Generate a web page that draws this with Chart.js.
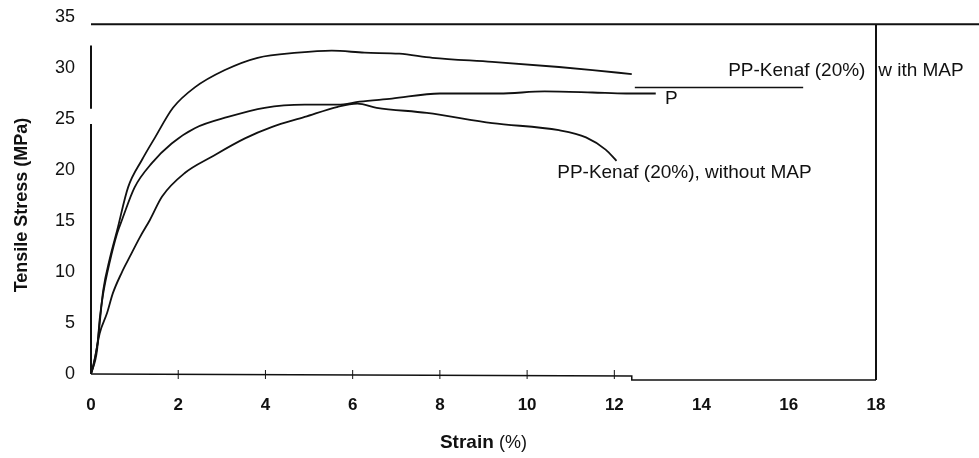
<!DOCTYPE html>
<html>
<head>
<meta charset="utf-8">
<script src="https://cdn.jsdelivr.net/npm/chart.js@4/dist/chart.umd.min.js"></script>
<style>
  html, body { margin: 0; padding: 0; background: #fff; }
  #wrap { width: 979px; height: 458px; }
</style>
</head>
<body>
<div id="wrap"><canvas id="chart" width="979" height="458"></canvas></div>
<script>
// strain (%) / tensile stress (MPa)
const withMapStrain = [0, 0.14, 0.28, 0.43, 0.6, 0.85, 1.17, 1.47, 1.88, 2.38, 3.07, 3.82, 4.74, 5.52, 6.27, 7.07, 7.83, 9.2, 10.73, 11.5, 12.4];
const withMapStress = [0, 2.7, 8.2, 11.3, 14.1, 18.3, 21.0, 23.2, 26.1, 28.1, 29.8, 31.0, 31.5, 31.7, 31.5, 31.4, 31.0, 30.6, 30.1, 29.8, 29.4];

const ppStrain = [0, 0.14, 0.2, 0.28, 0.43, 0.6, 0.71, 1.0, 1.4, 1.85, 2.38, 3.14, 3.98, 4.9, 5.66, 6.16, 6.9, 8.0, 9.36, 10.4, 11.5, 12.27, 12.95];
const ppStress = [0, 2.4, 5.4, 7.9, 11.0, 13.8, 15.1, 18.3, 20.7, 22.6, 24.1, 25.2, 26.1, 26.4, 26.4, 26.7, 27.0, 27.5, 27.5, 27.7, 27.6, 27.5, 27.5];

const noMapStrain = [0, 0.05, 0.2, 0.37, 0.5, 0.7, 0.89, 1.12, 1.35, 1.63, 2.15, 2.77, 3.53, 4.14, 4.9, 5.66, 6.11, 6.55, 7.7, 9.2, 10.73, 11.35, 11.8, 12.05];
const noMapStress = [0, 0.7, 4.0, 6.0, 7.9, 9.9, 11.5, 13.4, 15.1, 17.4, 19.7, 21.3, 23.1, 24.2, 25.2, 26.2, 26.5, 26.1, 25.6, 24.6, 23.9, 23.2, 22.0, 20.9];

// leader line under the "with MAP" label
const leaderStrain = [12.47, 16.33];
const leaderStress = [28.1, 28.1];

const xTicks = [0, 2, 4, 6, 8, 10, 12, 14, 16, 18];
const yTicks = [0, 5, 10, 15, 20, 25, 30, 35];

// frame of the scanned plot (the top/right lines sit a bit below 35 / at 18)
const frameTop = 34.3;
const frameRight = 18;
const leftAxisParts = [[32.2, 26.0], [24.5, 0]];

const labels = [
  { text: 'PP-Kenaf (20%)', x: 14.61, y: 29.7 },
  { text: 'w ith MAP', x: 18.05, y: 29.7 },
  { text: 'P', x: 13.16, y: 27.0 },
  { text: 'PP-Kenaf (20%), without MAP', x: 10.69, y: 19.7 }
];

const toPoints = (xs, ys) => xs.map((x, i) => ({ x: x, y: ys[i] }));

const lineStyle = {
  borderColor: '#111',
  borderWidth: 1.8,
  pointRadius: 0,
  fill: false,
  cubicInterpolationMode: 'monotone'
};

// frame, tick marks, axis titles and the curve labels
const framePlugin = {
  id: 'frame',
  afterDraw(chart) {
    const ctx = chart.ctx;
    const xs = chart.scales.x;
    const ys = chart.scales.y;
    const px = v => xs.getPixelForValue(v);
    const py = v => ys.getPixelForValue(v);

    ctx.save();
    ctx.strokeStyle = '#111';
    ctx.lineWidth = 2;
    ctx.beginPath();
    ctx.moveTo(px(0), py(frameTop));
    ctx.lineTo(px(frameRight) + 103, py(frameTop));
    ctx.moveTo(px(frameRight), py(frameTop));
    ctx.lineTo(px(frameRight), py(-0.6));
    leftAxisParts.forEach(p => {
      ctx.moveTo(px(0), py(p[0]));
      ctx.lineTo(px(0), py(p[1]));
    });
    ctx.stroke();

    ctx.lineWidth = 1.5;
    ctx.beginPath();
    ctx.moveTo(px(0), py(0));
    ctx.lineTo(px(12.4), py(-0.2));
    ctx.lineTo(px(12.4), py(-0.6));
    ctx.lineTo(px(18), py(-0.6));
    ctx.stroke();

    ctx.lineWidth = 1;
    ctx.beginPath();
    xTicks.slice(1, 7).forEach(t => {
      ctx.moveTo(px(t), py(0) - 4);
      ctx.lineTo(px(t), py(0) + 5);
    });
    ctx.stroke();

    ctx.fillStyle = '#111';
    ctx.textBaseline = 'middle';

    // y title
    ctx.save();
    ctx.translate(22, 205);
    ctx.rotate(-Math.PI / 2);
    ctx.textAlign = 'center';
    ctx.font = 'bold 18px "Liberation Sans", Arial, sans-serif';
    ctx.fillText('Tensile Stress (MPa)', 0, 0);
    ctx.restore();

    // x title: bold "Strain" + regular "(%)"
    ctx.textAlign = 'left';
    ctx.font = 'bold 19px "Liberation Sans", Arial, sans-serif';
    const w1 = ctx.measureText('Strain ').width;
    ctx.font = '18px "Liberation Sans", Arial, sans-serif';
    const w2 = ctx.measureText('(%)').width;
    const startX = (xs.left + xs.right) / 2 - (w1 + w2) / 2;
    ctx.font = 'bold 19px "Liberation Sans", Arial, sans-serif';
    ctx.fillText('Strain', startX, 443);
    ctx.font = '18px "Liberation Sans", Arial, sans-serif';
    ctx.fillText('(%)', startX + w1, 443);

    ctx.font = '19px "Liberation Sans", Arial, sans-serif';
    labels.forEach(l => ctx.fillText(l.text, px(l.x), py(l.y)));
    ctx.restore();
  }
};

new Chart(document.getElementById('chart'), {
  type: 'line',
  data: {
    datasets: [
      Object.assign({ label: 'PP-Kenaf (20%) with MAP', data: toPoints(withMapStrain, withMapStress) }, lineStyle),
      Object.assign({ label: 'PP', data: toPoints(ppStrain, ppStress) }, lineStyle),
      Object.assign({ label: 'PP-Kenaf (20%), without MAP', data: toPoints(noMapStrain, noMapStress) }, lineStyle),
      Object.assign({ label: 'leader', data: toPoints(leaderStrain, leaderStress) }, lineStyle, { borderWidth: 1.5 })
    ]
  },
  options: {
    responsive: false,
    animation: false,
    layout: { padding: { left: 0, top: 17, right: 103, bottom: 0 } },
    plugins: {
      legend: { display: false },
      tooltip: { enabled: false }
    },
    scales: {
      x: {
        type: 'linear',
        min: 0,
        max: 18,
        afterFit: s => { s.height = 84; s.paddingLeft = 0; s.paddingRight = 0; },
        afterBuildTicks: s => { s.ticks = xTicks.map(v => ({ value: v })); },
        grid: { display: false, drawTicks: false },
        border: { display: false },
        ticks: {
          padding: 21,
          color: '#111',
          maxRotation: 0,
          font: { family: '"Liberation Sans", Arial, sans-serif', size: 17, weight: 'bold' }
        }
      },
      y: {
        type: 'linear',
        min: 0,
        max: 35,
        afterFit: s => { s.width = 91; s.paddingTop = 0; s.paddingBottom = 0; },
        afterBuildTicks: s => { s.ticks = yTicks.map(v => ({ value: v })); },
        grid: { display: false, drawTicks: false },
        border: { display: false },
        ticks: {
          padding: 16,
          color: '#111',
          font: { family: '"Liberation Sans", Arial, sans-serif', size: 18 }
        }
      }
    }
  },
  plugins: [framePlugin]
});
</script>
</body>
</html>
